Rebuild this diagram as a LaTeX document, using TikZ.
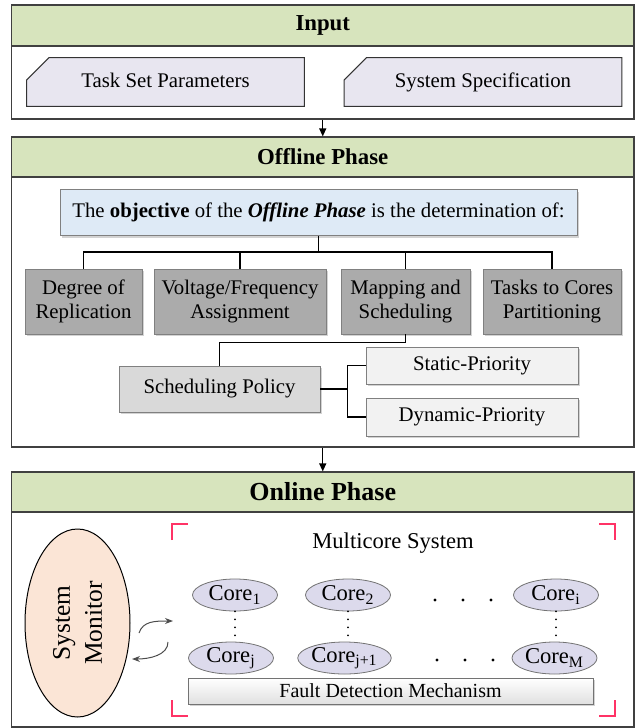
\documentclass[tikz,border=0pt]{standalone}
\usepackage{fontspec}
\setmainfont{Liberation Serif}
\usetikzlibrary{shapes.geometric,arrows.meta,shadows}

\definecolor{hdrgreen}{HTML}{D7E4BD}
\definecolor{inputfill}{HTML}{E8E6F0}
\definecolor{objfill}{HTML}{DEEAF6}
\definecolor{darkbox}{HTML}{ABABAB}
\definecolor{midbox}{HTML}{D9D9D9}
\definecolor{lightbox}{HTML}{F2F2F2}
\definecolor{monfill}{HTML}{FBE5D6}
\definecolor{corefill}{HTML}{DCDAEC}
\definecolor{bracketred}{HTML}{FF3366}
\definecolor{framegray}{HTML}{404040}

\tikzset{
    hdr/.style={draw=framegray, line width=0.6pt, fill=hdrgreen, minimum width=311.25pt, inner sep=0pt,
        font=\fontsize{11.4}{13}\selectfont\bfseries},
    sect/.style={draw=framegray, line width=0.6pt, minimum width=311.25pt, inner sep=0pt},
    inbox/.style={fill=white, minimum width=139.5pt, minimum height=25pt, inner sep=0pt,
        text height=1.6ex, text depth=0.3ex,
        path picture={
            \filldraw[fill=inputfill, draw=black!80, line width=0.5pt]
                ([shift={(0.3pt,-11.5pt)}]path picture bounding box.north west)
                -- ([shift={(11.5pt,-0.3pt)}]path picture bounding box.north west)
                -- ([shift={(-0.3pt,-0.3pt)}]path picture bounding box.north east)
                -- ([shift={(-0.3pt,0.3pt)}]path picture bounding box.south east)
                -- ([shift={(0.3pt,0.3pt)}]path picture bounding box.south west) -- cycle;
        }},
    boxshadow/.style={drop shadow={shadow xshift=1pt, shadow yshift=-1pt, opacity=0.35}},
    objbox/.style={draw=black!50, fill=objfill, minimum width=258.5pt, minimum height=23pt, inner sep=0pt, boxshadow},
    task/.style={draw=black!50, fill=darkbox, align=center, minimum height=32.5pt, inner sep=0pt, boxshadow},
    policy/.style={draw=black!50, fill=midbox, minimum width=100.5pt, minimum height=23pt, inner sep=0pt, boxshadow},
    prio/.style={draw=black!50, fill=lightbox, minimum width=106pt, minimum height=18.5pt, inner sep=0pt, boxshadow},
    monitor/.style={ellipse, rotate=90, draw=black, line width=0.5pt, fill=monfill, align=center,
        minimum width=94pt, minimum height=52.5pt, inner sep=0pt, font=\fontsize{12.7}{16}\selectfont},
    core/.style={ellipse, draw=black!55, fill=corefill, minimum width=42.5pt, minimum height=16pt, inner sep=0pt,
        font=\fontsize{11.3}{13}\selectfont},
    fault/.style={draw=black!55, top color=white, bottom color=black!12, minimum width=202.5pt,
        minimum height=13pt, inner sep=0pt, font=\fontsize{10}{12}\selectfont, boxshadow},
    link/.style={line width=0.75pt},
    flow/.style={line width=0.6pt, -{Triangle[length=4pt,width=3.5pt]}},
    monarrow/.style={draw=black!70, line width=0.5pt, -{Stealth[length=4pt,width=3pt]}},
    dotlink/.style={line width=1pt, line cap=round, dash pattern=on 0pt off 4pt},
    corner/.style={draw=bracketred, line width=1.3pt}
}

\begin{document}
\begin{tikzpicture}[x=0.5pt, y=-0.5pt, every node/.append style={font=\fontsize{10.4}{12}\selectfont}]
    \useasboundingbox (0,0) rectangle (640,728);

    % Input
    \node[hdr, minimum height=20.5pt] (inhead) at (322.75,25.5) {Input};
    \node[sect, minimum height=36.5pt] (inbody) at (322.75,82.5) {};
    \node[inbox] (taskset) at (165.5,82) {Task Set Parameters};
    \node[inbox] (sysspec) at (483,82) {System Specification};

    % Offline phase
    \node[hdr, minimum height=20pt] (offhead) at (322.75,157) {Offline Phase};
    \node[sect, minimum height=135pt] (offbody) at (322.75,312) {};
    \draw[flow] (inbody) -- (offhead);

    \node[objbox] (obj) at (318.5,212.5) {The \textbf{objective} of the \textbf{\textit{Offline Phase}} is the determination of:};

    \node[task, minimum width=58.5pt] (repl) at (83.5,301.5) {Degree of\\Replication};
    \node[task, minimum width=86pt] (volt) at (240,301.5) {Voltage/Frequency\\Assignment};
    \node[task, minimum width=64.5pt] (map) at (405.5,301.5) {Mapping and\\Scheduling};
    \node[task, minimum width=69pt] (part) at (552,301.5) {Tasks to Cores\\Partitioning};

    \draw[link] (obj.south) -- ++(0,16) coordinate (fork);
    \foreach \b in {repl,volt,map,part}
        \draw[link] (fork) -| (\b.north);

    % Scheduling policy
    \node[policy] (pol) at (219.5,389) {Scheduling Policy};
    \node[prio] (stat) at (472,365.5) {Static-Priority};
    \node[prio, minimum height=19pt] (dyn) at (472,417) {Dynamic-Priority};
    \draw[link] (map.south) -- ++(0,8) -| (pol.north);
    \draw[link] (pol.east) -- ++(27,0) coordinate (branch);
    \draw[link] (branch) |- (stat.west);
    \draw[link] (branch) |- (dyn.west);

    % Online phase
    \node[hdr, minimum height=20pt, font=\fontsize{13}{15}\selectfont\bfseries] (onhead) at (322.75,492) {Online Phase};
    \node[sect, minimum height=107.5pt] (onbody) at (322.75,619.5) {};
    \draw[flow] (offbody) -- (onhead);

    \node[monitor] (mon) at (77.5,623) {System\\Monitor};

    % Multicore system
    \node[font=\fontsize{11.3}{13}\selectfont] (mcs) at (393,543) {Multicore System};
    \draw[corner] (172,540) -- (172,524) -- (188,524);
    \draw[corner] (599,524) -- (615,524) -- (615,540);
    \draw[corner] (172,700) -- (172,716) -- (188,716);
    \draw[corner] (599,716) -- (615,716) -- (615,700);

    \node[core] (c1) at (235,595) {Core\textsubscript{1}};
    \node[core] (c2) at (348,595) {Core\textsubscript{2}};
    \node[core] (ci) at (556,595) {Core\textsubscript{i}};
    \node[core] (cj) at (231,658) {Core\textsubscript{j}};
    \node[core] (cj1) at (344.5,658) {Core\textsubscript{j+1}};
    \node[core] (cm) at (554.5,658) {Core\textsubscript{M}};

    \draw[dotlink] (c1) -- (c1 |- cj.north);
    \draw[dotlink] (c2) -- (c2 |- cj1.north);
    \draw[dotlink] (ci) -- (ci |- cm.north);

    \foreach \x in {435,463,491}
    {
        \fill (\x,600) circle (0.8pt);
        \fill (\x+2,660) circle (0.8pt);
    }

    \node[fault] (fdm) at (390.5,691) {Fault Detection Mechanism};

    % Monitor exchange
    \coordinate (toS) at (139,633);
    \coordinate (toE) at (173,621);
    \coordinate (backS) at (168,642);
    \coordinate (backE) at (132,659);
    \draw[monarrow] (toS) .. controls (143,621) and (155,621) .. (toE);
    \draw[monarrow] (backS) .. controls (168,655) and (150,659) .. (backE);
\end{tikzpicture}
\end{document}
